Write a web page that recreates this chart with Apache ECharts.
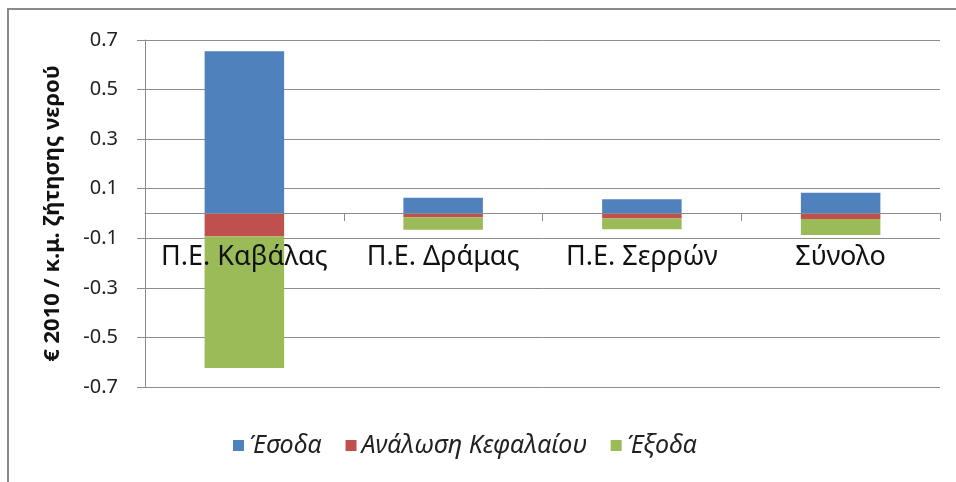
<!DOCTYPE html>
<html>
<head>
<meta charset="utf-8">
<script src="https://cdn.jsdelivr.net/npm/echarts@6/dist/echarts.min.js"></script>
<style>
html,body{margin:0;padding:0;background:#fff;}
#chart{width:956px;height:482px;}
</style>
</head>
<body>
<div id="chart"></div>
<script>
// κατηγορίες και τιμές (€2010 / κ.μ.)
var categories = ['Π.Ε. Καβάλας', 'Π.Ε. Δράμας', 'Π.Ε. Σερρών', 'Σύνολο'];
var esoda = [0.655, 0.064, 0.057, 0.084];
var analosi = [-0.093, -0.015, -0.02, -0.022];
var exoda = [-0.53, -0.051, -0.044, -0.065];
var seriesNames = ['Έσοδα', 'Ανάλωση Κεφαλαίου', 'Έξοδα'];
var colors = ['#4F81BD', '#C0504D', '#9BBB59'];

var font = "'Noto Sans', sans-serif";

var dom = document.getElementById('chart');
var myChart = echarts.init(dom);
var option = {
	color: colors,
	animation: false,
	graphic: [{
		type: 'rect',
		shape: {x: 8, y: 9, width: 1000, height: 1000},
		style: {fill: 'none', stroke: '#8a8a8a', lineWidth: 2}
	}],
	grid: {left: 145, right: 16, top: 40, bottom: 95},
	legend: {
		data: seriesNames,
		left: 228,
		top: 428,
		icon: 'rect',
		itemWidth: 11,
		itemHeight: 11,
		itemGap: 24,
		textStyle: {fontFamily: font, fontSize: 25, fontStyle: 'italic', color: '#222'}
	},
	xAxis: {
		type: 'category',
		data: categories,
		z: 10,
		// άξονας στο μηδέν (387 - 213 = 174)
		offset: -174,
		axisLine: {onZero: false, lineStyle: {color: '#8c8c8c', width: 1}},
		axisTick: {show: true, alignWithLabel: false, length: 8, lineStyle: {color: '#8c8c8c'}},
		axisLabel: {fontFamily: font, fontSize: 27, color: '#111', margin: 31, interval: 0}
	},
	yAxis: {
		type: 'value',
		min: -0.7,
		max: 0.7,
		interval: 0.2,
		name: '€ 2010 / κ.μ. ζήτησης νερού',
		nameLocation: 'middle',
		nameGap: 81,
		nameTextStyle: {fontFamily: font, fontSize: 22, fontWeight: 'bold', color: '#111'},
		axisLine: {show: true, lineStyle: {color: '#8c8c8c'}},
		axisTick: {show: true, length: 8, lineStyle: {color: '#8c8c8c'}},
		axisLabel: {
			fontFamily: font, fontSize: 20, color: '#222', margin: 27,
			formatter: function (v) { return (Math.round(v * 10) / 10).toFixed(1); }
		},
		splitLine: {show: true, lineStyle: {color: '#8c8c8c', width: 1}}
	},
	series: [
		{name: seriesNames[0], type: 'bar', stack: 'a', barWidth: '40%', data: esoda},
		{name: seriesNames[1], type: 'bar', stack: 'a', barWidth: '40%', data: analosi},
		{name: seriesNames[2], type: 'bar', stack: 'a', barWidth: '40%', data: exoda}
	]
};
myChart.setOption(option);
window.addEventListener('resize', function () {
	myChart.resize();
});
</script>
</body>
</html>
